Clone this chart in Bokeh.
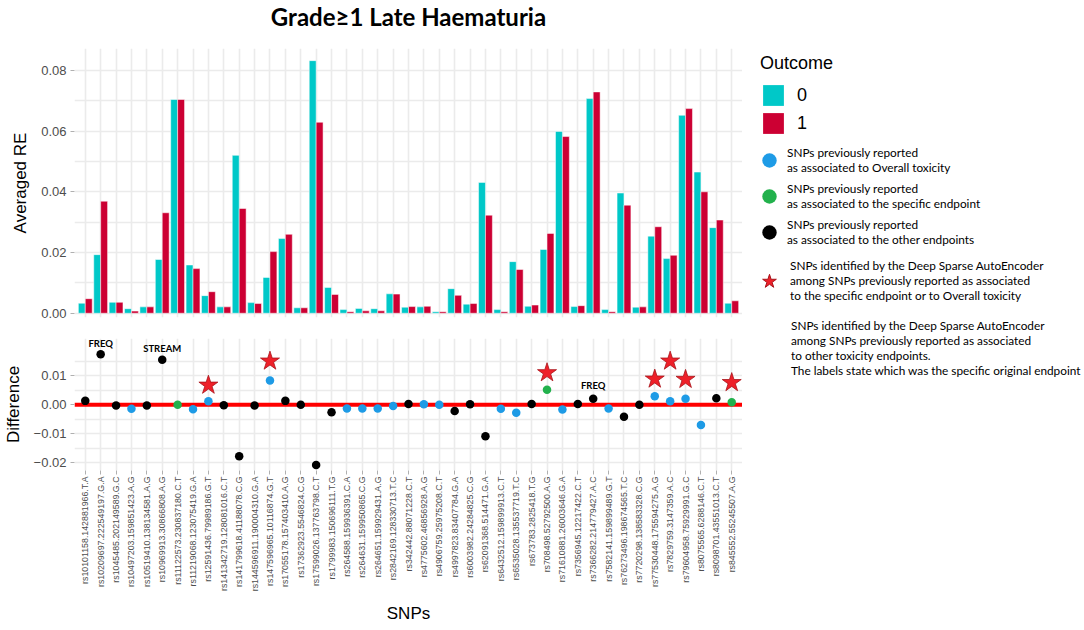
import math
from bokeh.plotting import figure
from bokeh.models import (ColumnDataSource, FactorRange, FixedTicker, PrintfTickFormatter,
                          CustomJSTickFormatter, Span, LabelSet, Legend, LegendItem, Range1d)
from bokeh.layouts import row, column
from bokeh.transform import dodge, factor_cmap
from bokeh.embed import file_html
from bokeh.resources import INLINE
from bokeh.core.properties import value

NAN = float("nan")

# ---------------- data ----------------
chart_title = "Grade\u22651 Late Haematuria"
snps = [
    "rs10101158.142881966.T.A", "rs10209697.222549197.G.A", "rs1045485.202149589.G.C",
    "rs10497203.159851423.A.G", "rs10519410.138134581.A.G", "rs10969913.30866808.A.G",
    "rs11122573.230837180.C.T", "rs11219068.123075419.G.A", "rs12591436.79989186.G.T",
    "rs141342719.128081016.C.T", "rs141799618.41188078.C.G", "rs144596911.190004310.G.A",
    "rs147596965.10116874.G.T", "rs17055178.157403410.A.G", "rs17362923.5546824.C.G",
    "rs17599026.137763798.C.T", "rs1799983.150696111.T.G", "rs264588.159936391.C.A",
    "rs264631.159950865.C.G", "rs264651.159929431.A.G", "rs2842169.128330713.T.C",
    "rs342442.88071228.C.T", "rs4775602.46856928.A.G", "rs4906759.25975208.C.T",
    "rs4997823.83407784.G.A", "rs6003982.24284825.C.G", "rs62091368.514471.G.A",
    "rs6432512.159899913.C.T", "rs6535028.135537719.T.C", "rs673783.2825418.T.G",
    "rs708498.52792500.A.G", "rs71610881.26003646.G.A", "rs7356945.12217422.C.T",
    "rs7366282.214779427.A.C", "rs7582141.159899489.G.T", "rs76273496.198674565.T.C",
    "rs7720298.138583328.C.G", "rs77530448.175594275.A.G", "rs7829759.3147359.A.C",
    "rs79604958.75929991.G.C", "rs8075565.6288146.C.T", "rs8098701.43551013.C.T",
    "rs845552.55245507.A.G",
]
outcome_levels = ["0", "1"]
re_outcome0 = [0.0033, 0.0193, 0.0036, 0.0015, 0.0021, 0.0177, 0.0704, 0.0159, 0.0058, 0.0021,
               0.0520, 0.0035, 0.0118, 0.0246, 0.0018, 0.0832, 0.0085, 0.0012, 0.0016, 0.0015,
               0.0064, 0.0020, 0.0021, 0.0005, 0.0081, 0.0030, 0.0431, 0.0012, 0.0170, 0.0023,
               0.0210, 0.0599, 0.0022, 0.0707, 0.0012, 0.0396, 0.0020, 0.0254, 0.0180, 0.0652,
               0.0465, 0.0282, 0.0033]
re_outcome1 = [0.0048, 0.0369, 0.0036, 0.0007, 0.0021, 0.0331, 0.0704, 0.0147, 0.0071, 0.0021,
               0.0345, 0.0032, 0.0203, 0.0260, 0.0018, 0.0629, 0.0062, 0.0005, 0.0008, 0.0008,
               0.0063, 0.0022, 0.0023, 0.0005, 0.0059, 0.0032, 0.0323, 0.0005, 0.0144, 0.0027,
               0.0263, 0.0582, 0.0025, 0.0729, 0.0005, 0.0356, 0.0021, 0.0285, 0.0191, 0.0674,
               0.0400, 0.0307, 0.0041]
difference = [0.0013, 0.0174, -0.0003, -0.0014, -0.0003, 0.0155, 0.0000, -0.0016, 0.0012, -0.0002,
              -0.0178, -0.0003, 0.0083, 0.0013, 0.0000, -0.0208, -0.0026, -0.0013, -0.0013, -0.0013,
              -0.0005, 0.0002, 0.0001, 0.0000, -0.0022, 0.0001, -0.0109, -0.0014, -0.0028, 0.0002,
              0.0051, -0.0017, 0.0002, 0.0020, -0.0013, -0.0042, 0.0000, 0.0029, 0.0012, 0.0020,
              -0.0070, 0.0022, 0.0008]
assoc_group = ["other", "other", "other", "overall", "other", "other", "specific", "overall", "overall", "other",
               "other", "other", "overall", "other", "other", "other", "other", "overall", "overall", "overall",
               "overall", "other", "overall", "overall", "other", "other", "other", "overall", "overall", "other",
               "specific", "overall", "other", "other", "overall", "other", "other", "overall", "overall", "overall",
               "overall", "other", "specific"]
group_levels = ["overall", "specific", "other"]
star_snps = [snps[8], snps[12], snps[30], snps[37], snps[38], snps[39], snps[42]]
star_y = [0.0067, 0.0150, 0.0110, 0.0088, 0.0150, 0.0087, 0.0076]
label_snps = [snps[1], snps[5], snps[33]]
label_y = [0.0212, 0.0195, 0.0067]
label_text = ["FREQ", "STREAM", "FREQ"]

legend_texts = [
    "SNPs previously reported\nas associated to Overall toxicity",
    "SNPs previously reported\nas associated to the specific endpoint",
    "SNPs previously reported\nas associated to the other endpoints",
    "SNPs identified by the Deep Sparse AutoEncoder\namong SNPs previously reported as associated\nto the specific endpoint or to Overall toxicity",
    "SNPs identified by the Deep Sparse AutoEncoder\namong SNPs previously reported as associated\nto other toxicity endpoints.\nThe labels state which was the specific original endpoint",
]

# ---------------- styles ----------------
CYAN = "#00C8C8"
RED = "#CC0033"
GROUP_COLORS = ["#1E9BE6", "#22B14C", "#000000"]
STAR_FILL = "#EE2029"
STAR_LINE = "#A8141B"
GRID = "#EBEBEB"
TICK_TXT = "#4D4D4D"
AXIS_FONT = "Liberation Sans"
CAL_FONT = "Lato"

src = ColumnDataSource(dict(snp=snps, re0=re_outcome0, re1=re_outcome1,
                            diff=difference, grp=assoc_group))
star_src = ColumnDataSource(dict(snp=star_snps, y=star_y))
lab_src = ColumnDataSource(dict(snp=label_snps, y=label_y, txt=label_text))

xr = FactorRange(factors=snps, range_padding=0.2, range_padding_units="absolute")


def style_common(p):
    p.outline_line_color = None
    p.background_fill_color = "white"
    p.xgrid.grid_line_color = GRID
    p.xgrid.grid_line_width = 1.6
    p.ygrid.grid_line_color = GRID
    p.ygrid.grid_line_width = 1.6
    p.ygrid.minor_grid_line_color = GRID
    p.ygrid.minor_grid_line_width = 1.3
    for ax in p.axis:
        ax.axis_line_color = None
        ax.major_tick_line_color = "#B0B0B0"
        ax.major_tick_out = 4
        ax.major_tick_in = 0
        ax.minor_tick_line_color = None
        ax.major_label_text_font = AXIS_FONT
        ax.major_label_text_color = TICK_TXT
        ax.axis_label_text_font = AXIS_FONT
        ax.axis_label_text_font_style = "normal"
        ax.axis_label_text_color = "black"
        ax.axis_label_text_font_size = "17px"
    p.yaxis.major_label_text_font_size = "13px"
    p.yaxis.major_label_standoff = 4
    p.yaxis.axis_label_standoff = 8


# ---------------- title strip ----------------
pt = figure(width=742, height=30, output_backend="svg", toolbar_location=None,
            x_range=Range1d(0, 1), y_range=Range1d(0, 1),
            min_border_left=70, min_border_right=0, min_border_top=0, min_border_bottom=0,
            x_axis_location=None, y_axis_location=None, title=chart_title)
pt.outline_line_color = None
pt.grid.visible = False
pt.title.text_font = CAL_FONT
pt.title.text_font_style = "bold"
pt.title.text_font_size = "24px"
pt.title.text_color = "black"
pt.title.align = "center"
pt.title.offset = -6
pt.title.standoff = 0

# ---------------- top panel ----------------
p1 = figure(x_range=xr, y_range=Range1d(-0.0014, 0.0872), width=742, height=308,
            output_backend="svg", toolbar_location=None,
            min_border_left=70, min_border_right=0, min_border_top=18, min_border_bottom=21)
p1.vbar(x=dodge("snp", -0.225, range=xr), top="re0", width=0.45, source=src,
        fill_color=CYAN, line_color="white", line_width=0.5)
p1.vbar(x=dodge("snp", 0.225, range=xr), top="re1", width=0.45, source=src,
        fill_color=RED, line_color="white", line_width=0.5)
style_common(p1)
p1.yaxis.ticker = FixedTicker(ticks=[0, 0.02, 0.04, 0.06, 0.08], minor_ticks=[0.01, 0.03, 0.05, 0.07])
p1.yaxis.formatter = PrintfTickFormatter(format="%.2f")
p1.yaxis.axis_label = "Averaged RE"
p1.xaxis.visible = False

# ---------------- bottom panel ----------------
p2 = figure(x_range=xr, y_range=Range1d(-0.0227, 0.0228), width=742, height=292,
            output_backend="svg", toolbar_location=None,
            min_border_left=70, min_border_right=0, min_border_top=0, min_border_bottom=160)
zero = Span(location=0, dimension="width", line_color="#FF0000", line_width=4, level="underlay")
p2.add_layout(zero)
p2.scatter(x="snp", y="diff", source=src, size=8.5, line_color=None,
           fill_color=factor_cmap("grp", GROUP_COLORS, group_levels))
p2.scatter(x="snp", y="y", source=star_src, marker="star", size=20,
           fill_color=STAR_FILL, line_color=STAR_LINE, line_width=0.8)
labels = LabelSet(x="snp", y="y", text="txt", source=lab_src, text_font=value(CAL_FONT),
                  text_font_style="bold", text_font_size="9.5px", text_align="center",
                  text_baseline="middle", text_color="black")
p2.add_layout(labels)
style_common(p2)
p2.yaxis.ticker = FixedTicker(ticks=[-0.02, -0.01, 0, 0.01], minor_ticks=[-0.015, -0.005, 0.005, 0.015])
p2.yaxis.formatter = CustomJSTickFormatter(code="return tick.toFixed(2).replace('-', '\u2212');")
p2.yaxis.axis_label = "Difference"
p2.xaxis.major_label_orientation = math.pi / 2
p2.xaxis.major_label_text_font_size = "8.8px"
p2.xaxis.major_label_standoff = 2
p2.xaxis.axis_label = "SNPs"
p2.xaxis.axis_label_standoff = 10

# ---------------- legend panel ----------------
p3 = figure(width=342, height=630, x_range=Range1d(0, 1), y_range=Range1d(0, 1),
            output_backend="svg", toolbar_location=None, min_border=0,
            x_axis_location=None, y_axis_location=None)
p3.outline_line_color = None
p3.grid.visible = False

# legend keys: renderers without visible data (NaN positions)
k0 = p3.vbar(x=[NAN], top=[NAN], width=1, fill_color=CYAN, line_color=None)
k1 = p3.vbar(x=[NAN], top=[NAN], width=1, fill_color=RED, line_color=None)
kb = p3.scatter(x=[NAN], y=[NAN], size=15, fill_color=GROUP_COLORS[0], line_color=None)
kg = p3.scatter(x=[NAN], y=[NAN], size=15, fill_color=GROUP_COLORS[1], line_color=None)
kk = p3.scatter(x=[NAN], y=[NAN], size=15, fill_color=GROUP_COLORS[2], line_color=None)
ks = p3.scatter(x=[NAN], y=[NAN], marker="star", size=16, fill_color=STAR_FILL, line_color=STAR_LINE)
kn = p3.scatter(x=[NAN], y=[NAN], size=1, fill_alpha=0, line_alpha=0)


def base_legend(leg):
    leg.border_line_color = None
    leg.background_fill_alpha = 0
    leg.padding = 0
    leg.margin = 0
    leg.label_text_font = CAL_FONT
    leg.label_text_font_size = "11.8px"
    leg.label_text_line_height = 1.35
    leg.label_text_color = "black"
    return leg


leg_out = base_legend(Legend(items=[LegendItem(label=outcome_levels[0], renderers=[k0]),
                                    LegendItem(label=outcome_levels[1], renderers=[k1])],
                             location=(18, 494)))
leg_out.title = "Outcome"
leg_out.title_text_font = AXIS_FONT
leg_out.title_text_font_size = "18px"
leg_out.title_text_font_style = "normal"
leg_out.title_text_color = "black"
leg_out.title_standoff = 8
leg_out.label_text_font = AXIS_FONT
leg_out.label_text_font_size = "18px"
leg_out.glyph_width = 26
leg_out.glyph_height = 26
leg_out.spacing = 2
leg_out.label_standoff = 11

leg_dots = base_legend(Legend(items=[LegendItem(label=legend_texts[0], renderers=[kb]),
                                     LegendItem(label=legend_texts[1], renderers=[kg]),
                                     LegendItem(label=legend_texts[2], renderers=[kk])],
                              location=(9, 380)))
leg_dots.glyph_width = 36
leg_dots.glyph_height = 36
leg_dots.spacing = 0
leg_dots.label_standoff = 0

leg_star = base_legend(Legend(items=[LegendItem(label=legend_texts[3], renderers=[ks])],
                              location=(9, 327)))
leg_star.glyph_width = 36
leg_star.glyph_height = 40
leg_star.label_standoff = 3

leg_note = base_legend(Legend(items=[LegendItem(label=legend_texts[4], renderers=[kn])],
                              location=(9, 252)))
leg_note.glyph_width = 36
leg_note.glyph_height = 10
leg_note.label_standoff = 4

for lg in (leg_out, leg_dots, leg_star, leg_note):
    p3.add_layout(lg)

layout = row(column(pt, p1, p2), p3)
open("out.html", "w").write(file_html(layout, INLINE))
